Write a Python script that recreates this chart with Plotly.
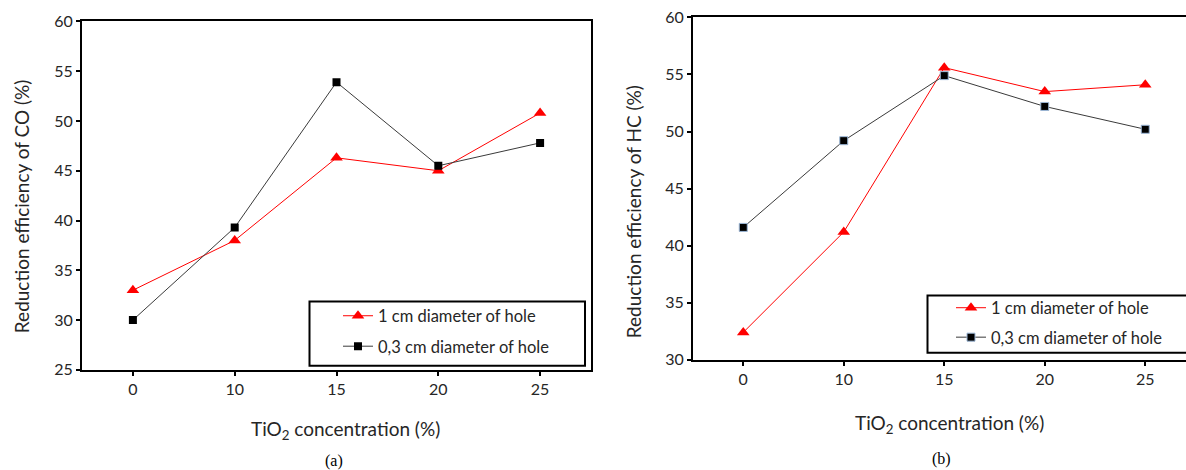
import plotly.graph_objects as go

W = 1186
HF = 485          # figure height (px)
SY, OY = 0.957, 9.6   # observed vertical mapping of the photographed page

conc = ["0", "10", "15", "20", "25"]
co_1cm = [33.0, 38.0, 46.3, 45.0, 50.8]
co_03cm = [30.0, 39.3, 53.9, 45.5, 47.8]
hc_1cm = [32.4, 41.2, 55.6, 53.5, 54.1]
hc_03cm = [41.6, 49.2, 54.9, 52.2, 50.2]
label_1cm = "1 cm diameter of hole"
label_03cm = "0,3 cm diameter of hole"

FONT = "Lato"
TXT = "#262626"

def px(x):
    return x / W

def raw(y):
    return (y - OY) / SY

def py(y):
    return 1 - raw(y) / HF

fig = go.Figure()

red = "#ff0000"
blk = "#3a3a3a"

fig.add_trace(go.Scatter(x=conc, y=co_1cm, mode="lines+markers", name=label_1cm,
                         line=dict(color=red, width=1),
                         marker=dict(symbol="triangle-up", size=11, color=red),
                         xaxis="x", yaxis="y", legend="legend", legendgroup="a1"))
fig.add_trace(go.Scatter(x=conc, y=co_03cm, mode="lines+markers", name=label_03cm,
                         line=dict(color=blk, width=1),
                         marker=dict(symbol="square", size=8, color="black"),
                         xaxis="x", yaxis="y", legend="legend", legendgroup="a2"))
fig.add_trace(go.Scatter(x=conc, y=hc_1cm, mode="lines+markers", name=label_1cm,
                         line=dict(color=red, width=1),
                         marker=dict(symbol="triangle-up", size=11, color=red),
                         xaxis="x2", yaxis="y2", legend="legend2", legendgroup="b1"))
fig.add_trace(go.Scatter(x=conc, y=hc_03cm, mode="lines+markers", name=label_03cm,
                         line=dict(color=blk, width=1),
                         marker=dict(symbol="square", size=8, color="black",
                                     line=dict(color="#9db8d8", width=1)),
                         xaxis="x2", yaxis="y2", legend="legend2", legendgroup="b2"))

axis_common = dict(showline=True, linecolor="black", linewidth=2, ticks="outside",
                   ticklen=4, tickwidth=1.5, tickcolor="black", showgrid=False,
                   zeroline=False, tickfont=dict(family=FONT, size=16, color=TXT))

fig.update_layout(
    width=W, height=HF, autosize=False, margin=dict(l=0, r=0, t=0, b=0),
    paper_bgcolor="white", plot_bgcolor="white", showlegend=True,
    xaxis=dict(domain=[px(82), px(591)], anchor="y", type="category",
               range=[-0.5, 4.5], mirror=True, **axis_common),
    yaxis=dict(domain=[py(368), py(21)], anchor="x", range=[25, 60], dtick=5,
               mirror=True, **axis_common),
    xaxis2=dict(domain=[px(693), 1.0], anchor="y2", type="category",
                range=[-0.5, -0.5 + (W - 693) / 100.5], mirror=True, **axis_common),
    yaxis2=dict(domain=[py(358), py(17)], anchor="x2", range=[30, 60], dtick=5,
                mirror=False, **axis_common),
    legend=dict(x=px(338), y=1 - (raw(314) - 17.8) / HF, xanchor="left", yanchor="top",
                bgcolor="rgba(0,0,0,0)", borderwidth=0, traceorder="grouped",
                tracegroupgap=6, font=dict(family=FONT, size=16.5, color=TXT)),
    legend2=dict(x=px(951), y=1 - (raw(306) - 17.8) / HF, xanchor="left", yanchor="top",
                 bgcolor="rgba(0,0,0,0)", borderwidth=0, traceorder="grouped",
                 tracegroupgap=5, font=dict(family=FONT, size=16.5, color=TXT)),
)

# legend frames
fig.add_shape(type="rect", xref="paper", yref="paper",
              x0=px(309.5), x1=px(585), y0=py(364), y1=py(300),
              line=dict(color="black", width=2), fillcolor="white", layer="above")
fig.add_shape(type="rect", xref="paper", yref="paper",
              x0=px(927.5), x1=1.05, y0=py(351), y1=py(294),
              line=dict(color="black", width=2), fillcolor="white", layer="above")

ann = [
    dict(text="Reduction efficiency of CO (%)", x=px(21), y=py(205), textangle=-90, size=19),
    dict(text="Reduction efficiency of HC (%)", x=px(633), y=py(211), textangle=-90, size=19),
    dict(text="TiO<sub>2</sub> concentration (%)", x=px(345), y=py(428), textangle=0, size=19),
    dict(text="TiO<sub>2</sub> concentration (%)", x=px(949.5), y=py(422), textangle=0, size=19),
]
for a in ann:
    fig.add_annotation(text=a["text"], x=a["x"], y=a["y"], xref="paper", yref="paper",
                       showarrow=False, textangle=a["textangle"],
                       xanchor="center", yanchor="middle",
                       font=dict(family=FONT, size=a["size"], color=TXT))
for t, x, y in [("(a)", 333.5, 459), ("(b)", 941, 457)]:
    fig.add_annotation(text=t, x=px(x), y=py(y), xref="paper", yref="paper",
                       showarrow=False, xanchor="center", yanchor="middle",
                       font=dict(family="Liberation Serif", size=16, color="black"))

fig.write_html(
    "out.html",
    config={"displayModeBar": False, "responsive": False},
    post_script=(
        "document.documentElement.style.margin='0px';"
        "document.body.style.margin='0px';"
        "document.body.style.overflow='hidden';"
    ),
)
